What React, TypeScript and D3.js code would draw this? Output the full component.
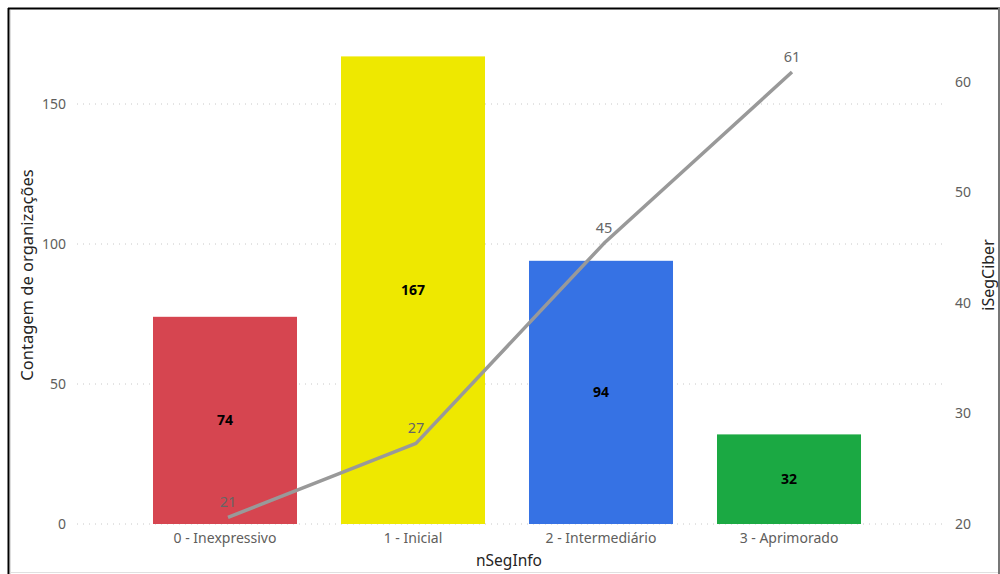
import React from "react";
import * as d3 from "d3";

const categories = ["0 - Inexpressivo", "1 - Inicial", "2 - Intermediário", "3 - Aprimorado"];
const counts = [74, 167, 94, 32];
const iSegCiber = [20.6, 27.3, 45.4, 60.9];
const lineLabels = ["21", "27", "45", "61"];
const barColors = ["#D64550", "#EEE800", "#3672E4", "#1BA943"];
const leftTicks = [0, 50, 100, 150];
const rightTicks = [20, 30, 40, 50, 60];

const W = 1000;
const H = 574;
const FONT = "'Segoe UI', 'Noto Sans', 'Open Sans', sans-serif";

export default function App() {
  const x = d3.scaleBand<string>().domain(categories).range([131, 883]).paddingInner(0.234).paddingOuter(0.117);
  const yL = d3.scaleLinear().domain([0, 50]).range([524, 384]);
  const yR = d3.scaleLinear().domain([20, 60]).range([524, 82]);
  const lineShift = 3;
  const cx = (i: number) => (x(categories[i]) as number) + x.bandwidth() / 2;
  const line = d3
    .line<number>()
    .x((_, i) => cx(i) + lineShift)
    .y((d) => yR(d));

  const gridX0 = 77;
  const gridX1 = 943;

  return (
    <svg
      width={W}
      height={H}
      style={{ position: "absolute", left: 0, top: 0, background: "#fff" }}
      fontFamily={FONT}
    >
      <rect x={0} y={0} width={W} height={H} fill="#fff" />
      {/* frame */}
      <line x1={8.5} y1={8} x2={8.5} y2={H} stroke="#000" strokeWidth={2} />
      <line x1={8} y1={8.5} x2={W} y2={8.5} stroke="#000" strokeWidth={2} />
      <line x1={10.5} y1={10} x2={10.5} y2={H} stroke="#ddd" strokeWidth={1} />
      <line x1={999} y1={8} x2={999} y2={H} stroke="#777" strokeWidth={2} />
      <line x1={10} y1={572.5} x2={998} y2={572.5} stroke="#e0e0e0" strokeWidth={1} />

      {/* gridlines */}
      {leftTicks.map((t) => (
        <line
          key={"g" + t}
          x1={gridX0}
          x2={gridX1}
          y1={yL(t)}
          y2={yL(t)}
          stroke="#c8c8c8"
          strokeWidth={1}
          strokeDasharray="1 5"
        />
      ))}

      {/* left ticks */}
      {leftTicks.map((t) => (
        <text key={"l" + t} x={66} y={yL(t)} dy="0.35em" textAnchor="end" fontSize={14} fill="#605E5C">
          {t}
        </text>
      ))}
      {/* right ticks */}
      {rightTicks.map((t) => (
        <text key={"r" + t} x={955} y={yR(t)} dy="0.35em" textAnchor="start" fontSize={14} fill="#605E5C">
          {t}
        </text>
      ))}

      {/* bars */}
      {counts.map((v, i) => (
        <rect
          key={"b" + i}
          x={x(categories[i])}
          y={yL(v)}
          width={x.bandwidth()}
          height={yL(0) - yL(v)}
          fill={barColors[i]}
        />
      ))}
      {counts.map((v, i) => (
        <text
          key={"bl" + i}
          x={cx(i)}
          y={(yL(v) + yL(0)) / 2}
          dy="0.35em"
          textAnchor="middle"
          fontSize={14}
          fontWeight="bold"
          fill="#000"
        >
          {v}
        </text>
      ))}

      {/* line */}
      <path d={line(iSegCiber) || ""} fill="none" stroke="#999999" strokeWidth={3.5} strokeLinejoin="round" />
      {iSegCiber.map((v, i) => (
        <text
          key={"ll" + i}
          x={cx(i) + lineShift}
          y={yR(v) - 15}
          dy="0.35em"
          textAnchor="middle"
          fontSize={14.5}
          fill="#666"
        >
          {lineLabels[i]}
        </text>
      ))}

      {/* category labels */}
      {categories.map((c, i) => (
        <text key={"c" + c} x={cx(i)} y={538} dy="0.35em" textAnchor="middle" fontSize={14} fill="#605E5C">
          {c}
        </text>
      ))}

      {/* axis titles */}
      <text x={509} y={561} dy="0.35em" textAnchor="middle" fontSize={15.5} fill="#252423">
        nSegInfo
      </text>
      <text
        transform={`translate(27,275) rotate(-90)`}
        dy="0.35em"
        textAnchor="middle"
        fontSize={16.5}
        fill="#252423"
      >
        Contagem de organizações
      </text>
      <text
        transform={`translate(988,275) rotate(-90)`}
        dy="0.35em"
        textAnchor="middle"
        fontSize={16}
        fill="#252423"
      >
        iSegCiber
      </text>
    </svg>
  );
}
